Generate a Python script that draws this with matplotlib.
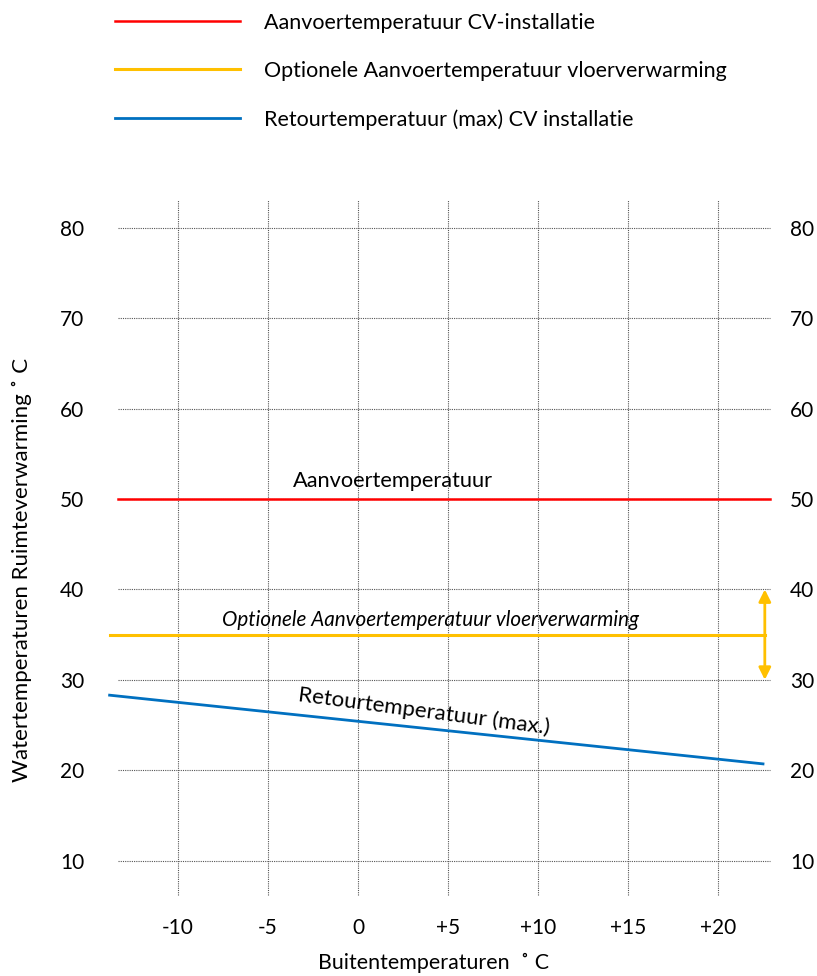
import matplotlib
matplotlib.use("Agg")
import matplotlib.pyplot as plt

plt.rcParams['font.family'] = ['Lato', 'DejaVu Sans']

# Data
supply_x = [-13.33, 22.89]
supply_y = [50, 50]
floor_x = [-13.8, 22.6]
floor_y = [35, 35]
return_x = [-13.8, 22.5]
return_y = [28.3, 20.7]
floor_range = [30, 40]

x_ticks = [-10, -5, 0, 5, 10, 15, 20]
x_tick_labels = ['-10', '-5', '0', '+5', '+10', '+15', '+20']
y_ticks = [10, 20, 30, 40, 50, 60, 70, 80]
y_tick_labels = ['10', '20', '30', '40', '50', '60', '70', '80']

legend_labels = ['Aanvoertemperatuur CV-installatie',
                 'Optionele Aanvoertemperatuur vloerverwarming',
                 'Retourtemperatuur (max) CV installatie']

RED = '#FF0000'
YEL = '#FFC000'
BLUE = '#0070C0'

W, H = 817, 976
fig = plt.figure(figsize=(W / 100, H / 100), dpi=100)
ax = fig.add_axes([96 / W, 71 / H, 682 / W, 715 / H])
ax.set_xlim(-14.556, 23.333)
ax.set_ylim(5.09, 84.18)
for s in ax.spines.values():
    s.set_visible(False)

# grid
grid_x0, grid_x1 = -13.33, 22.89
grid_y0, grid_y1 = 6.2, 83.08
ax.hlines(y_ticks, grid_x0, grid_x1, colors='#555555', linestyles=(0, (1, 1)), lw=0.8, zorder=1)
ax.vlines(x_ticks, grid_y0, grid_y1, colors='#555555', linestyles=(0, (1, 1)), lw=0.8, zorder=1)

l1, = ax.plot(supply_x, supply_y, color=RED, lw=1.8, zorder=3)
l2, = ax.plot(floor_x, floor_y, color=YEL, lw=2.2, zorder=3)
l3, = ax.plot(return_x, return_y, color=BLUE, lw=2.0, zorder=3)

ax.annotate('', xy=(floor_x[1], floor_range[1]), xytext=(floor_x[1], floor_range[0]),
            arrowprops=dict(arrowstyle='<|-|>', color=YEL, lw=2, mutation_scale=18,
                            shrinkA=0, shrinkB=0), zorder=4)

ax.set_xticks(x_ticks)
ax.set_xticklabels(x_tick_labels)
ax.set_yticks(y_ticks)
ax.set_yticklabels(y_tick_labels)
ax.tick_params(axis='both', length=0, labelsize=15, colors='black')
ax.tick_params(axis='y', labelleft=True, labelright=True, pad=8.6)
ax.tick_params(axis='x', pad=9)

ax.text(1.94, 52.0, 'Aanvoertemperatuur', fontsize=15.7, ha='center', va='center')
ax.text(4.0, 36.6, 'Optionele Aanvoertemperatuur vloerverwarming', fontsize=14.9,
        style='italic', ha='center', va='center')
ax.text(3.67, 26.5, 'Retourtemperatuur (max.)', fontsize=16, ha='center', va='center',
        rotation=-7.5, rotation_mode='anchor')

fig.text(22 / W, 1 - 570 / H, 'Watertemperaturen Ruimteverwarming \u02da C', rotation=90,
         fontsize=16, ha='center', va='center')
fig.text(433 / W, 1 - 963 / H, 'Buitentemperaturen  \u02da C', fontsize=15.4,
         ha='center', va='center')

fig.legend([l1, l2, l3], legend_labels, loc='upper left',
           bbox_to_anchor=(115 / W, 1 - 13 / H), frameon=False, fontsize=15.5,
           handlelength=5.8, handletextpad=1.1, labelspacing=1.3,
           borderpad=0, borderaxespad=0)

fig.savefig('out.png', dpi=100)
